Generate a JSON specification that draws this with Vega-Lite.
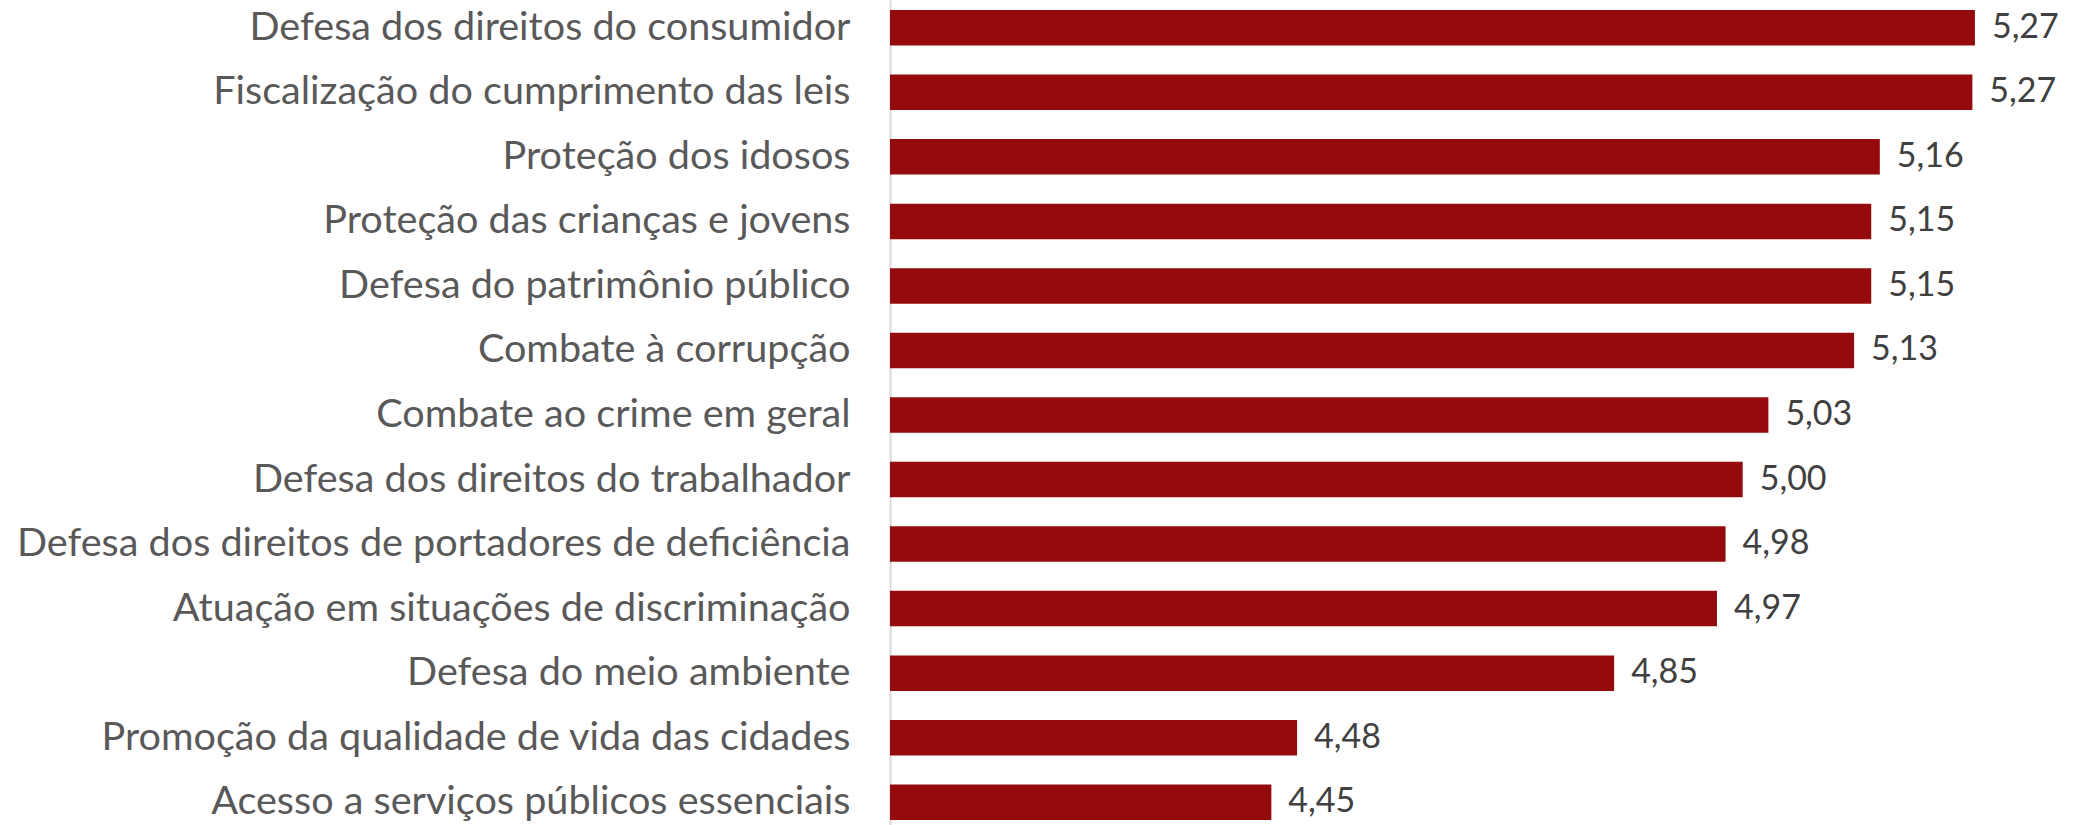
{
  "$schema": "https://vega.github.io/schema/vega-lite/v6.json",
  "autosize": {"type": "none"},
  "padding": {"left": 890, "top": 0, "right": 0, "bottom": 0},
  "width": 1190,
  "height": 830,
  "background": "white",
  "config": {
    "view": {"stroke": null},
    "font": "Lato",
    "locale": {"number": {"decimal": ",", "thousands": ".", "grouping": [3], "currency": ["R$", ""]}}
  },
  "data": {
    "values": [
      {"item": "Defesa dos direitos do consumidor", "value": 5.271},
      {"item": "Fiscalização do cumprimento das leis", "value": 5.268},
      {"item": "Proteção dos idosos", "value": 5.16},
      {"item": "Proteção das crianças e jovens", "value": 5.15},
      {"item": "Defesa do patrimônio público", "value": 5.15},
      {"item": "Combate à corrupção", "value": 5.13},
      {"item": "Combate ao crime em geral", "value": 5.03},
      {"item": "Defesa dos direitos do trabalhador", "value": 5.0},
      {"item": "Defesa dos direitos de portadores de deficiência", "value": 4.98},
      {"item": "Atuação em situações de discriminação", "value": 4.97},
      {"item": "Defesa do meio ambiente", "value": 4.85},
      {"item": "Promoção da qualidade de vida das cidades", "value": 4.48},
      {"item": "Acesso a serviços públicos essenciais", "value": 4.45}
    ]
  },
  "encoding": {
    "y": {
      "field": "item",
      "type": "nominal",
      "sort": null,
      "scale": {"paddingInner": 0.45, "paddingOuter": 0.155},
      "axis": {
        "title": null,
        "ticks": false,
        "domain": true,
        "domainColor": "#d9d9d9",
        "domainWidth": 2,
        "labelFontSize": 39.6,
        "labelColor": "#595959",
        "labelPadding": 40,
        "labelLimit": 0
      }
    },
    "x": {
      "field": "value",
      "type": "quantitative",
      "scale": {"domain": [4.005, 5.3936], "nice": false, "zero": false},
      "axis": null
    }
  },
  "layer": [
    {"mark": {"type": "bar", "color": "#940A0D", "clip": true}},
    {
      "mark": {"type": "text", "align": "left", "baseline": "middle", "dx": 17, "fontSize": 34, "color": "#404040"},
      "encoding": {"text": {"field": "value", "type": "quantitative", "format": ".2f"}}
    }
  ]
}
